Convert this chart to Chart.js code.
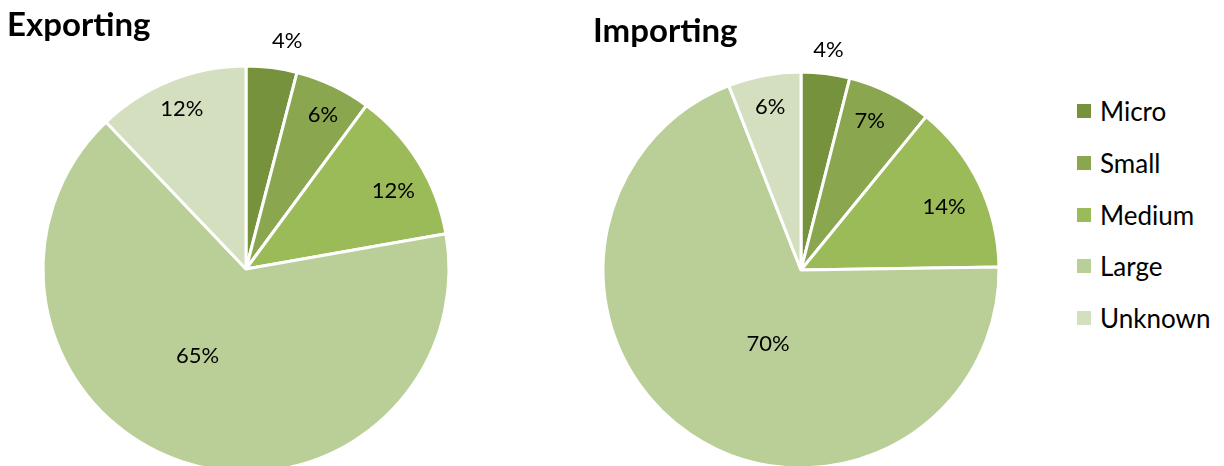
<!DOCTYPE html>
<html>
<head>
<meta charset="utf-8">
<script src="https://cdn.jsdelivr.net/npm/chart.js@4/dist/chart.umd.min.js"></script>
<style>
  body { margin: 0; width: 1224px; height: 466px; overflow: hidden; background: #fff; position: relative; font-family: Lato, sans-serif; }
  canvas { position: absolute; }
  .title { position: absolute; font-weight: bold; font-size: 33px; line-height: 1.2; color: #000; white-space: nowrap; }
  #legend { position: absolute; left: 1077px; top: 85px; }
  .item { height: 51.85px; display: flex; align-items: center; font-size: 26px; color: #000; }
  .swatch { width: 14px; height: 14px; margin-right: 9px; }
</style>
</head>
<body>
<canvas id="exportChart" width="492" height="538" style="left:0; top:0"></canvas>
<canvas id="importChart" width="520" height="540" style="left:541px; top:0"></canvas>
<div class="title" style="left:7px; top:4px">Exporting</div>
<div class="title" style="left:593px; top:10px">Importing</div>
<div id="legend"></div>
<script>
// firm size shares, in percent
const sizes = ['Micro', 'Small', 'Medium', 'Large', 'Unknown'];
const exporting = [4, 6, 12, 65, 12];
const importing = [4, 7, 14, 70, 6];
const greens = ['#76923c', '#8aa64f', '#9bbb59', '#bacf98', '#d3dfbe'];

// percent labels, placed along each slice's mid angle
const pctLabels = {
  id: 'pctLabels',
  afterDatasetsDraw(chart, args, opts) {
    const ctx = chart.ctx;
    const meta = chart.getDatasetMeta(0);
    const values = chart.data.datasets[0].data;
    ctx.save();
    ctx.font = '22px Lato';
    ctx.fillStyle = '#000';
    ctx.textAlign = 'center';
    ctx.textBaseline = 'middle';
    meta.data.forEach((arc, i) => {
      const p = arc.getProps(['x', 'y', 'startAngle', 'endAngle', 'outerRadius'], true);
      const place = opts.place[i];
      const a = (p.startAngle + p.endAngle) / 2 + place.nudge * Math.PI / 180;
      const d = p.outerRadius * place.r;
      ctx.fillText(values[i] + '%', p.x + Math.cos(a) * d, p.y + Math.sin(a) * d);
    });
    ctx.restore();
  }
};

function pie(id, values, radius, place) {
  return new Chart(document.getElementById(id), {
    type: 'pie',
    data: {
      labels: sizes,
      datasets: [{
        data: values,
        backgroundColor: greens,
        borderColor: '#fff',
        borderWidth: 3,
        radius: radius
      }]
    },
    options: {
      responsive: false,
      animation: false,
      layout: { padding: 0 },
      plugins: {
        legend: { display: false },
        tooltip: { enabled: false },
        pctLabels: { place: place }
      }
    },
    plugins: [pctLabels]
  });
}

pie('exportChart', exporting, 203, [
  { r: 1.14, nudge: 3 },
  { r: 0.85, nudge: 1 },
  { r: 0.82, nudge: 4 },
  { r: 0.49, nudge: 11 },
  { r: 0.85, nudge: 0 }
]);

const importChart = pie('importChart', importing, 198, [
  { r: 1.12, nudge: 0 },
  { r: 0.83, nudge: -2 },
  { r: 0.79, nudge: 2 },
  { r: 0.41, nudge: -10 },
  { r: 0.84, nudge: 0 }
]);

// legend built from the chart's own labels and colours
const legendEl = document.getElementById('legend');
importChart.data.labels.forEach((label, i) => {
  const row = document.createElement('div');
  row.className = 'item';
  const sw = document.createElement('span');
  sw.className = 'swatch';
  sw.style.background = importChart.data.datasets[0].backgroundColor[i];
  row.appendChild(sw);
  row.appendChild(document.createTextNode(label));
  legendEl.appendChild(row);
});
</script>
</body>
</html>
